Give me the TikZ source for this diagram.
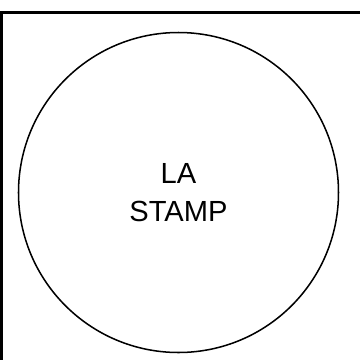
\documentclass[tikz,border=0pt]{standalone}
\usepackage{fontspec}
\setmainfont{Liberation Sans}
\begin{document}
\begin{tikzpicture}[x=0.027778cm, y=-0.027778cm]
    \definecolor{borderColour}{HTML}{000000}

    \def\stampRadius{160}

    % Fix the page size
    \useasboundingbox (0,0) rectangle (360,360);
    \clip (0,0) rectangle (360,360);

    % Draw outer frame
    \coordinate (frameNW) at (1.5,12.5);
    \coordinate (frameSE) at (380,380);
    \draw[draw=borderColour, line width=1.6pt] (frameNW) rectangle (frameSE);

    % Draw stamp circle
    \coordinate (stampCentre) at (178.5,192.5);
    \draw[draw=borderColour, line width=1.2pt] (stampCentre) circle (\stampRadius);

    % Label stamp
    \node[align=center, font=\fontsize{23}{30.5}\selectfont] (stampText) at (stampCentre) {LA\\STAMP};

\end{tikzpicture}
\end{document}
